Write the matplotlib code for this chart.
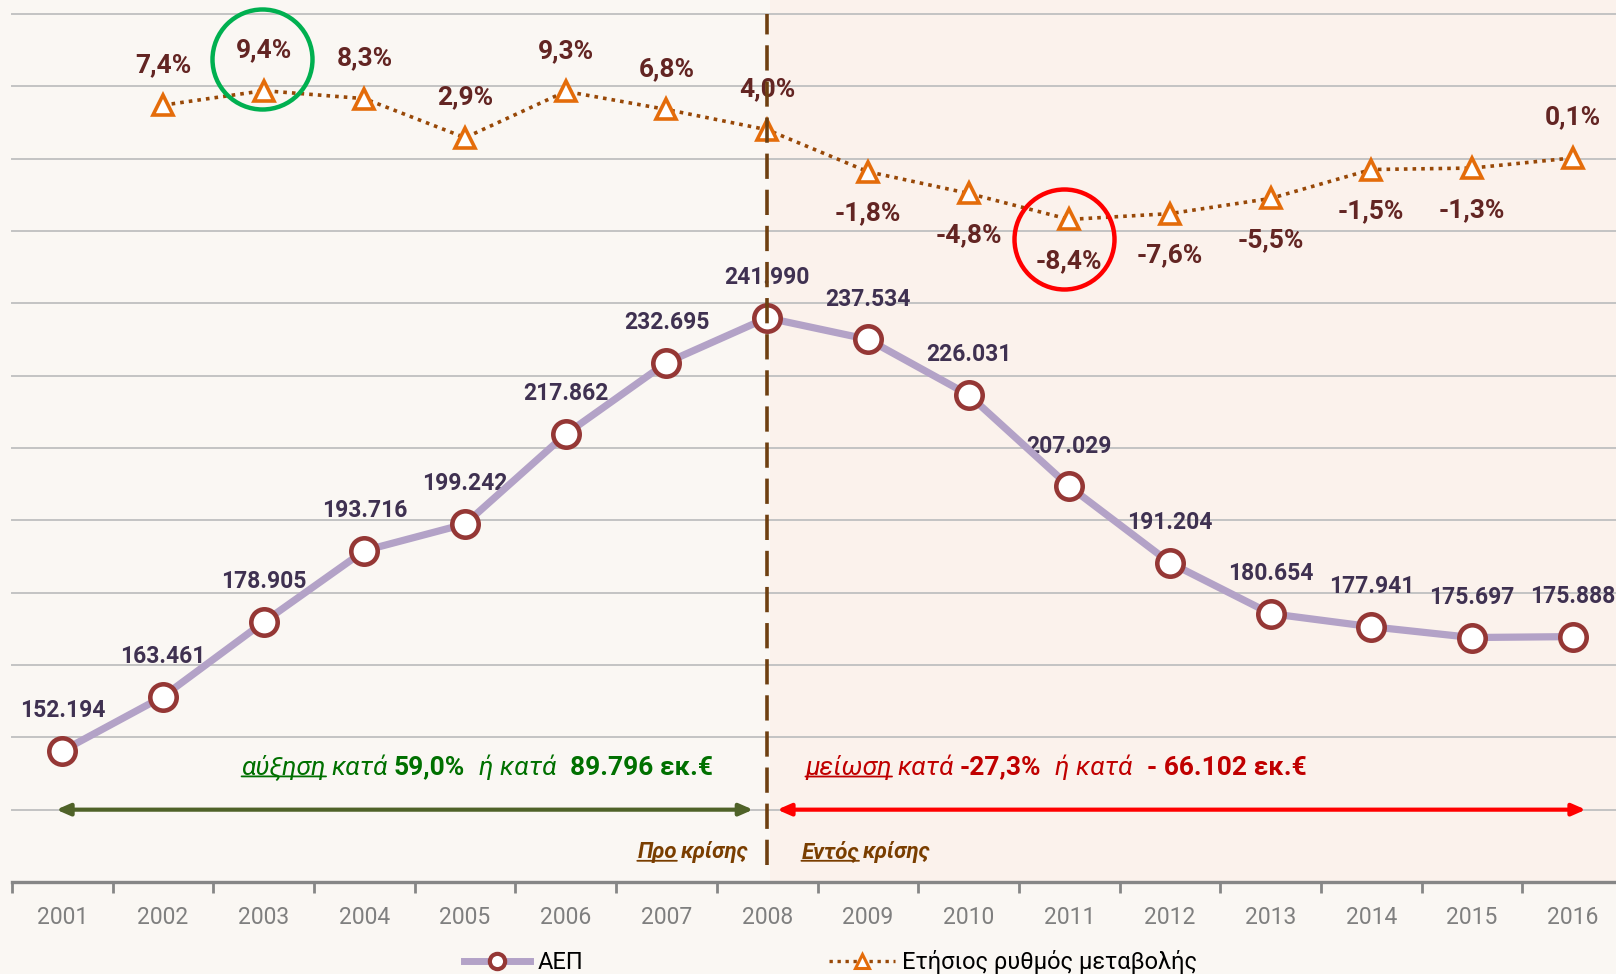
import matplotlib
matplotlib.use('Agg')
import matplotlib.pyplot as plt
import matplotlib.transforms as mtransforms
from matplotlib.patches import Rectangle
from matplotlib.lines import Line2D
import numpy as np

plt.rcParams['font.family'] = ['Roboto', 'DejaVu Sans']

# ---------------- data ----------------
years = ['2001', '2002', '2003', '2004', '2005', '2006', '2007', '2008',
         '2009', '2010', '2011', '2012', '2013', '2014', '2015', '2016']
gdp = [152194, 163461, 178905, 193716, 199242, 217862, 232695, 241990,
       237534, 226031, 207029, 191204, 180654, 177941, 175697, 175888]
change_years = years[1:]
change = [7.4, 9.4, 8.3, 2.9, 9.3, 6.8, 4.0, -1.8, -4.8, -8.4, -7.6,
          -5.5, -1.5, -1.3, 0.1]
crisis_year = '2008'
highlight_up = '2003'
highlight_down = '2011'
series_names = ['ΑΕΠ', 'Ετήσιος ρυθμός μεταβολής']

# ---------------- colours ----------------
BG_LEFT = '#FAF7F3'
BG_RIGHT = '#FBF2EC'
GRID = '#C3C3C3'
AEP_LINE = '#B3A2C7'
AEP_EDGE = '#953735'
AEP_TXT = '#3F3151'
CH_LINE = '#984807'
CH_EDGE = '#E46C0A'
CH_TXT = '#632523'
GREEN = '#007000'
RED = '#C00000'
BROWN = '#7A3E00'

W, H = 1616, 974
fig = plt.figure(figsize=(W / 100, H / 100), dpi=100)
fig.patch.set_facecolor(BG_LEFT)

ax = fig.add_axes([12 / W, 92 / H, 1611 / W, 868 / H])
ax.set_facecolor('none')
x = np.arange(len(years))
xc = np.arange(1, len(years))
ax.set_xlim(-0.5, len(years) - 0.5)
ax.set_ylim(125000, 305000)

ax2 = ax.twinx()
ax2.set_ylim(-100, 20)
ax2.set_facecolor('none')
for a in (ax, ax2):
    for s in ('left', 'right', 'top'):
        a.spines[s].set_visible(False)
ax2.spines['bottom'].set_visible(False)
ax2.set_yticks([])
ax.set_yticks([])

# right shaded area (crisis period)
ci = years.index(crisis_year)
shade = Rectangle((ci + 0.03, 0), len(years), 1 + 20 / 868,
                  transform=mtransforms.blended_transform_factory(ax.transData, ax.transAxes),
                  facecolor=BG_RIGHT, edgecolor='none', zorder=0, clip_on=False)
ax.add_patch(shade)

# gridlines
for v in np.arange(140000, 305001, 15000):
    ax.axhline(v, color=GRID, lw=1.4, zorder=1, clip_on=False)

# x axis
ax.spines['bottom'].set_color('#868686')
ax.spines['bottom'].set_linewidth(2.4)
ax.set_xticks(x)
ax.set_xticklabels(years)
ax.set_xticks(np.arange(-0.5, len(years), 1), minor=True)
ax.tick_params(axis='x', which='major', length=0, pad=17, labelsize=16.5,
               labelcolor='#7F7F7F')
ax.tick_params(axis='x', which='minor', length=8, width=2, color='#868686',
               direction='out')

# GDP series
ax.plot(x, gdp, color=AEP_LINE, lw=5.2, zorder=5, solid_capstyle='round',
        marker='o', ms=19, mfc='white', mec=AEP_EDGE, mew=3.3)
for xi, v in zip(x, gdp):
    ax.annotate(f"{v:,}".replace(',', '.'), (xi, v), xytext=(0, 29),
                textcoords='offset points', ha='center', va='center',
                fontsize=16.5, fontweight='bold', color=AEP_TXT, zorder=3)

# change series
ax2.plot(xc, change, color=CH_LINE, lw=2.6, linestyle=(0, (1, 1.4)), zorder=5,
         marker='^', ms=15, mfc='white', mec=CH_EDGE, mew=2.6)
for xi, v in zip(xc, change):
    off = 29 if v >= 0 else -30
    ax2.annotate(f"{v:.1f}%".replace('.', ','), (xi, v), xytext=(0, off),
                 textcoords='offset points', ha='center', va='center',
                 fontsize=19, fontweight='bold', color=CH_TXT, zorder=4)

# crisis dashed line (on top)
ax2.plot([ci, ci], [-97.6, 20], color='#6E4011', lw=2.6,
         linestyle=(0, (7, 3)), zorder=10, clip_on=False)

# highlight circles
iu = years.index(highlight_up)
idn = years.index(highlight_down)
tr_up = mtransforms.offset_copy(ax2.transData, fig=fig, x=-1, y=23, units='points')
ax2.plot([iu], [change[iu - 1]], marker='o', ms=72, mfc='none', mec='#00B050',
         mew=3.2, transform=tr_up, zorder=11, clip_on=False)
tr_dn = mtransforms.offset_copy(ax2.transData, fig=fig, x=-4, y=-14, units='points')
ax2.plot([idn], [change[idn - 1]], marker='o', ms=72, mfc='none', mec='#FF0000',
         mew=3.2, transform=tr_dn, zorder=11, clip_on=False)

# arrows
ax.annotate('', xy=(ci - 0.14, 140000), xytext=(-0.06, 140000),
            arrowprops=dict(arrowstyle='<|-|>,head_length=0.8,head_width=0.35',
                            color='#4F6228', lw=3, shrinkA=0, shrinkB=0), zorder=6)
ax.annotate('', xy=(len(years) - 0.87, 140000), xytext=(ci + 0.1, 140000),
            arrowprops=dict(arrowstyle='<|-|>,head_length=0.8,head_width=0.35',
                            color='#FF0000', lw=3, shrinkA=0, shrinkB=0), zorder=6)


def rich(ax, x0, y0, pieces, fontsize):
    prev = None
    arts = []
    for text, style, weight, color, underline, gap in pieces:
        if prev is None:
            t = ax.text(x0, y0, text, fontsize=fontsize, style=style,
                        fontweight=weight, color=color, ha='left', va='bottom',
                        zorder=7)
        else:
            t = ax.annotate(text, xy=(1, 0), xycoords=prev, xytext=(gap, 0),
                            textcoords='offset points', fontsize=fontsize,
                            style=style, fontweight=weight, color=color,
                            ha='left', va='bottom', zorder=7)
        if underline:
            ax.annotate('', xy=(1, 0.12), xycoords=t, xytext=(0, 0.12),
                        textcoords=t,
                        arrowprops=dict(arrowstyle='-', color=color, lw=1.3,
                                        shrinkA=0, shrinkB=0))
        prev = t
        arts.append(t)
    return arts


fs = 19
rich(ax, 1.78, 146250, [
    ('αύξηση', 'italic', 'normal', GREEN, True, 0),
    ('κατά', 'italic', 'normal', GREEN, False, 4),
    ('59,0%', 'normal', 'bold', GREEN, False, 4),
    ('ή κατά', 'italic', 'normal', GREEN, False, 10),
    ('89.796 εκ.€', 'normal', 'bold', GREEN, False, 10),
], fs)
rich(ax, 7.38, 146250, [
    ('μείωση', 'italic', 'normal', RED, True, 0),
    ('κατά', 'italic', 'normal', RED, False, 4),
    ('-27,3%', 'normal', 'bold', RED, False, 4),
    ('ή κατά', 'italic', 'normal', RED, False, 10),
    ('- 66.102 εκ.€', 'normal', 'bold', RED, False, 10),
], fs)

# period labels
fs2 = 16
rich(ax, 5.71, 128850, [
    ('Προ', 'italic', 'bold', BROWN, True, 0),
    ('κρίσης', 'italic', 'bold', BROWN, False, 3),
], fs2)
rich(ax, 7.34, 128850, [
    ('Εντός', 'italic', 'bold', BROWN, True, 0),
    ('κρίσης', 'italic', 'bold', BROWN, False, 3),
], fs2)

# legend
handles = [
    Line2D([], [], color=AEP_LINE, lw=5, marker='o', ms=11, mfc='white',
           mec=AEP_EDGE, mew=3),
    Line2D([], [], color=CH_LINE, lw=2.4, linestyle=(0, (1, 1.4)), marker='^',
           ms=10, mfc='white', mec=CH_EDGE, mew=2.2),
]
fig.legend(handles, series_names, loc='center', bbox_to_anchor=(0.514, 0.012),
           ncol=2, frameon=False, columnspacing=10.4, handlelength=2.8,
           handletextpad=0.3, fontsize=17)

fig.savefig('out.png', dpi=100, facecolor=BG_LEFT)
